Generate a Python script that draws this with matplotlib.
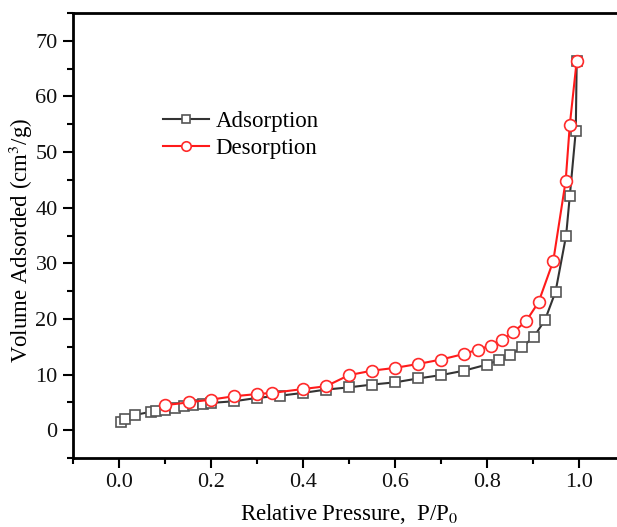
import numpy as np
import matplotlib.pyplot as plt
from matplotlib.ticker import MultipleLocator

# isotherm data
ads_p = [0.004, 0.013, 0.035, 0.069, 0.080, 0.10, 0.122, 0.141, 0.16, 0.182,
         0.20, 0.25, 0.30, 0.35, 0.40, 0.45, 0.50, 0.55, 0.60, 0.65, 0.70,
         0.75, 0.80, 0.826, 0.851, 0.876, 0.902, 0.926, 0.949, 0.972, 0.980,
         0.993, 0.995]
ads_v = [1.4, 2.1, 2.75, 3.3, 3.5, 3.7, 4.0, 4.4, 4.5, 4.7,
         4.9, 5.2, 5.8, 6.2, 6.7, 7.3, 7.7, 8.2, 8.6, 9.3, 9.9,
         10.7, 11.8, 12.6, 13.5, 14.9, 16.8, 19.8, 24.9, 35.0, 42.1,
         53.8, 66.4]

des_p = [0.995, 0.980, 0.971, 0.944, 0.912, 0.885, 0.857, 0.832, 0.808, 0.78,
         0.75, 0.70, 0.65, 0.60, 0.55, 0.50, 0.45, 0.40, 0.333, 0.30,
         0.25, 0.20, 0.152, 0.10]
des_v = [66.4, 54.9, 44.8, 30.4, 23.0, 19.6, 17.6, 16.2, 15.2, 14.5,
         13.7, 12.7, 11.9, 11.2, 10.7, 9.9, 7.9, 7.4, 6.7, 6.5,
         6.1, 5.5, 5.0, 4.5]

plt.rcParams['font.family'] = ['Liberation Serif', 'DejaVu Serif']
plt.rcParams['mathtext.fontset'] = 'stix'

fig = plt.figure(figsize=(6.17, 5.27), dpi=100)
# axes run past the right edge, like the cropped original
ax = fig.add_axes([73 / 617, 69 / 527, 552 / 617, 445 / 527])

ax.plot(ads_p, ads_v, color='#333333', lw=1.5, marker='s', ms=7.5,
        mfc='white', mec='#555555', mew=1.2, label='Adsorption', zorder=2)
ax.plot(des_p, des_v, color='#ff1a1a', lw=1.5, marker='o', ms=8.5,
        mfc='white', mec='#ff2a2a', mew=1.2, label='Desorption', zorder=3)

ax.set_xlim(-0.1, 1.1)
ax.set_ylim(-5, 75)
ax.xaxis.set_minor_locator(MultipleLocator(0.1))
ax.yaxis.set_major_locator(MultipleLocator(10))
ax.yaxis.set_minor_locator(MultipleLocator(5))
ax.set_xticks(np.arange(0, 1.01, 0.2))
ax.set_xticklabels(['0.0', '0.2', '0.4', '0.6', '0.8', '1.0'])

for s in ax.spines.values():
    s.set_linewidth(2)
ax.tick_params(which='major', direction='out', length=7, width=1.5,
               labelsize=16, labelcolor='#111111', pad=4)
ax.tick_params(which='minor', direction='out', length=4, width=1.5)

ax.set_xlabel('Relative Pressure,  P/P$_0$', fontsize=16.5, labelpad=7)
ax.set_ylabel('Volume Adsorded (cm$^3$/g)', fontsize=16.5)
ax.yaxis.set_label_coords(-0.068, 0.49)

ax.legend(loc='upper left', bbox_to_anchor=(0.163, 0.78), frameon=False,
          fontsize=16.5, handlelength=2.0, handletextpad=0.3,
          labelspacing=0.25, borderpad=0, borderaxespad=0, markerscale=0.8)

fig.savefig('out.png', dpi=100)
